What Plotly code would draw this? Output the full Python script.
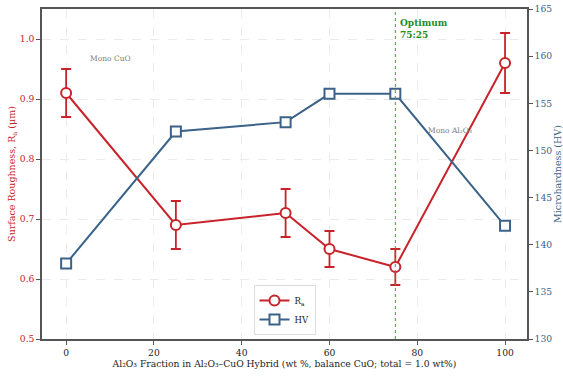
import plotly.graph_objects as go

al2o3_frac = [0, 25, 50, 60, 75, 100]
ra_vals = [0.91, 0.69, 0.71, 0.65, 0.62, 0.96]
ra_err = [0.04, 0.04, 0.04, 0.03, 0.03, 0.05]
hv_vals = [138, 152, 153, 156, 156, 142]
x_ticks = [0, 20, 40, 60, 80, 100]

RED = "#c8232b"
BLUE = "#3b6288"
FONT = "DejaVu Serif"

fig = go.Figure()
fig.add_trace(go.Scatter(
    x=al2o3_frac, y=ra_vals, name="R<sub>a</sub>", mode="lines+markers",
    line=dict(color=RED, width=2),
    marker=dict(symbol="circle", size=10, color="white", line=dict(color=RED, width=2)),
    error_y=dict(type="data", array=ra_err, color=RED, thickness=1.8, width=5),
    yaxis="y"))
fig.add_trace(go.Scatter(
    x=al2o3_frac, y=hv_vals, name="HV", mode="lines+markers",
    line=dict(color=BLUE, width=2),
    marker=dict(symbol="square", size=10, color="white", line=dict(color=BLUE, width=2)),
    yaxis="y2"))

fig.add_shape(type="line", x0=75, x1=75, y0=0, y1=1, xref="x", yref="paper",
              line=dict(color="#3aa03a", width=1, dash="dot"))

fig.add_annotation(x=75.6, y=1.038, xref="x", yref="y", text="<b>Optimum<br>75:25</b>",
                   showarrow=False, xanchor="left", yanchor="top", align="left",
                   font=dict(color="#1e8c1e", size=9, family=FONT))
fig.add_annotation(x=5, y=0.967, xref="x", yref="y", text="Mono CuO",
                   showarrow=False, xanchor="left", yanchor="middle",
                   font=dict(color="#808080", size=7.5, family=FONT))
fig.add_annotation(x=82, y=0.848, xref="x", yref="y", text="Mono Al₂O₃",
                   showarrow=False, xanchor="left", yanchor="middle",
                   font=dict(color="#808080", size=7.5, family=FONT))

axis_common = dict(showline=True, linecolor="#555555", linewidth=1.5, ticks="outside",
                   ticklen=4, tickcolor="#555555", zeroline=False, automargin=False)

fig.update_layout(
    width=563, height=376,
    margin=dict(l=42, r=36, t=9, b=37),
    paper_bgcolor="white", plot_bgcolor="white",
    font=dict(family=FONT, size=9, color="#222222"),
    showlegend=True,
    legend=dict(x=0.5, y=0.012, xanchor="center", yanchor="bottom",
                bgcolor="white", bordercolor="#dddddd", borderwidth=1,
                font=dict(size=8.5, family=FONT), itemwidth=30, tracegroupgap=0),
    xaxis=dict(range=[-5.5, 105], tickvals=x_ticks, mirror=True,
               showgrid=True, gridcolor="#ebebeb", griddash="dash", gridwidth=1,
               title=dict(text="Al₂O₃ Fraction in Al₂O₃–CuO Hybrid (wt %, balance CuO; total = 1.0 wt%)",
                          font=dict(size=9.2, color="#222222"), standoff=2),
               tickfont=dict(size=9.2, color="#222222"), **axis_common),
    yaxis=dict(range=[0.5, 1.05], tickvals=[0.5, 0.6, 0.7, 0.8, 0.9, 1.0],
               tickformat=".1f",
               showgrid=True, gridcolor="#ebebeb", griddash="dash", gridwidth=1,
               title=dict(text="Surface Roughness, R<sub>a</sub> (μm)", font=dict(size=9.5, color=RED), standoff=2),
               tickfont=dict(size=9.2, color=RED), **axis_common),
    yaxis2=dict(range=[130, 165], tickvals=[130, 135, 140, 145, 150, 155, 160, 165],
                overlaying="y", side="right", showgrid=False,
                title=dict(text="Microhardness (HV)", font=dict(size=9.5, color=BLUE), standoff=2),
                tickfont=dict(size=9.2, color=BLUE), **axis_common),
)

fig.write_html("out.html", config={"displayModeBar": False},
               post_script="document.body.style.margin='0';document.body.style.overflow='hidden';")
